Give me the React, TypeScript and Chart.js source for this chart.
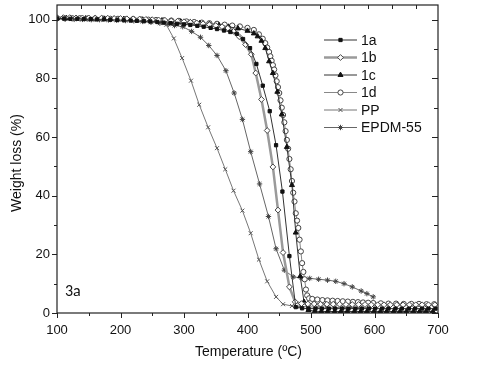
import { useEffect, useRef } from 'react';
import { Chart, registerables } from 'chart.js';
import { drawPoint } from 'chart.js/helpers';

Chart.register(...registerables);

// ---------- data ----------
const t1a = [100,111,121,132,142,153,163,174,184,195,205,216,226,237,247,258,268,279,289,300,310,321,331,342,352,363,373,383,393,404,414,424,435,445,455,466,476,486,496,507,517,528,538,549,559,570,580,591,601,612,622,633,643,654,664,675,685,696];
const w1a = [100.4,100.4,100.3,100.3,100.2,100.2,100.1,100.1,100,99.9,99.8,99.7,99.6,99.5,99.4,99.2,99,98.8,98.6,98.4,98.2,97.9,97.6,97.2,96.8,96.3,95.8,95.2,93.4,90.3,84.9,77.5,68.8,57.2,41.4,19.4,2,1.6,1.5,1.5,1.5,1.5,1.5,1.5,1.5,1.5,1.5,1.5,1.5,1.5,1.5,1.5,1.5,1.5,1.5,1.5,1.5,1.5];

const t1b = [100,110,120,130,140,150,160,170,180,190,200,210,220,230,240,250,260,270,280,290,300,310,320,330,340,350,360,369,378,387,397,406,413,422,431,440,448,456,466,475,485,495,505,515,525,535,545,555,565,575,585,595,605,615,625,635,645,655,665,675,685,695];
const w1b = [100.7,100.7,100.7,100.6,100.6,100.6,100.5,100.5,100.5,100.4,100.4,100.3,100.3,100.2,100.1,100,99.9,99.8,99.6,99.5,99.3,99.1,98.9,98.6,98.3,98,97.6,97.1,96,94.2,91.5,88.2,81.8,72.8,62.2,49.8,35.1,20.6,8.9,3.8,3.2,3.1,3.1,3,3,3,3,2.9,2.9,2.9,2.9,2.8,2.8,2.8,2.8,2.8,2.8,2.8,2.8,2.8,2.8,2.8];

const t1c = [100,115,130,145,160,175,190,205,220,235,250,265,280,295,310,325,340,355,370,385,400,410,416,422,428,434,440,447,454,462,470,476,483,489,496,506,516,526,537,547,557,568,578,588,599,609,619,630,640,650,661,671,681,692];
const w1c = [100.5,100.5,100.5,100.4,100.4,100.3,100.3,100.2,100.1,100,99.9,99.7,99.5,99.3,99.1,98.8,98.5,98.1,97.6,97,96.2,95.3,94.3,92.8,90.3,85.8,81.8,75.4,67.7,56.6,43.6,27.4,12.5,3.8,1,0.6,0.5,0.5,0.5,0.5,0.5,0.5,0.5,0.5,0.5,0.5,0.5,0.5,0.5,0.5,0.5,0.5,0.5,0.5];

const t1d = [100,112,124,136,148,160,172,184,196,208,220,232,244,256,268,280,292,304,316,328,340,352,364,376,388,400,410,418,424,428,431,434,436,438,440,442,444,446,448,450,452,454,456,458,460,462,464,466,468,470,472,474,476,478,480,482,484,486,488,490,492,494,497,502,510,518,526,534,542,550,558,566,574,582,590,598,610,622,634,646,658,670,682,694];
const w1d = [100.5,100.5,100.5,100.5,100.4,100.4,100.4,100.3,100.3,100.2,100.2,100.1,100,99.9,99.8,99.7,99.6,99.4,99.2,99,98.8,98.6,98.3,98,97.7,97.2,96.5,95,93.5,92,90.5,89,87.5,86,84.5,83,81,79,77,75,72.5,70,67.5,65,62,59,56,52.5,49,45,41,38,34,31.5,29,25,21,17,14,11.5,8,6,5,4.8,4.6,4.4,4.3,4.2,4.1,4,3.9,3.8,3.7,3.6,3.5,3.4,3.3,3.2,3.2,3.1,3.1,3.1,3,3];

const tPP = [100,113,127,140,154,167,181,194,208,221,235,248,262,272,284,297,311,324,338,352,365,378,392,405,418,431,445,456,470,483,497,510,524,537,551,564,578,591];
const wPP = [100.3,100.3,100.2,100.2,100.1,100.1,100,100,99.9,99.8,99.6,99.3,98.9,98.3,93.6,86.9,79.2,71,63.3,56.2,49,41.7,34.9,27.2,18.2,10.8,5.5,3,2.4,2.2,2.1,2,2,1.9,1.9,1.8,1.8,1.8];

const tEP = [100,113,127,140,154,167,181,194,208,221,235,248,262,275,285,298,312,326,339,352,366,379,392,405,419,433,445,458,472,485,498,512,526,539,552,565,579,588,598];
const wEP = [100.2,100.2,100.1,100.1,100,100,99.9,99.8,99.7,99.6,99.4,99.1,98.8,98.4,98,97.6,96,94,91.2,87.8,82.6,75,66,55,44,32.9,21.9,14.6,12.3,12,11.8,11.5,11.2,10.8,10,8.9,7.5,6.6,5.5];

const xTickValues = [100, 200, 300, 400, 500, 600, 700];
const yTickValues = [0, 20, 40, 60, 80, 100];
const xTitle = 'Temperature (ºC)';
const yTitle = 'Weight loss (%)';
const panelLabel = '3a';

const FONT = "'Liberation Sans', Arial, sans-serif";

const pts = (t: number[], w: number[]) => t.map((x, i) => ({ x, y: w[i] }));

const axesPlugin = {
  id: 'axesDeco',
  afterDatasetsDraw(chart: any) {
    const { ctx, chartArea: ca, scales } = chart;
    const xs = scales.x;
    const ys = scales.y;
    ctx.save();
    ctx.strokeStyle = '#222';
    ctx.lineWidth = 1.2;
    ctx.strokeRect(ca.left, ca.top, ca.right - ca.left, ca.bottom - ca.top);
    ctx.lineWidth = 1;
    ctx.beginPath();
    for (let v = 100; v <= 700; v += 50) {
      const px = Math.round(xs.getPixelForValue(v)) + 0.5;
      const len = v % 100 === 0 ? 5 : 3;
      ctx.moveTo(px, ca.bottom);
      ctx.lineTo(px, ca.bottom + len);
    }
    for (let v = 0; v <= 100; v += 10) {
      const py = Math.round(ys.getPixelForValue(v)) + 0.5;
      const len = v % 20 === 0 ? 5 : 3;
      ctx.moveTo(ca.left, py);
      ctx.lineTo(ca.left - len, py);
      ctx.moveTo(ca.right, py);
      ctx.lineTo(ca.right - len - 1, py);
    }
    for (let v = 100 + 37.7; v < 700; v += 37.7) {
      const px = Math.round(xs.getPixelForValue(v)) + 0.5;
      ctx.moveTo(px, ca.top);
      ctx.lineTo(px, ca.top + 4);
    }
    ctx.stroke();

    ctx.fillStyle = '#111';
    ctx.font = `14px ${FONT}`;
    ctx.textAlign = 'center';
    ctx.textBaseline = 'middle';
    ctx.fillText(xTitle, (ca.left + ca.right) / 2 + 1, 352);
    ctx.save();
    ctx.translate(17, 163);
    ctx.rotate(-Math.PI / 2);
    ctx.fillText(yTitle, 0, 0);
    ctx.restore();
    ctx.font = `16px 'Carlito', ${FONT}`;
    ctx.textAlign = 'left';
    ctx.fillText(panelLabel, ca.left + 8, ys.getPixelForValue(7));

    const lx0 = 324, lx1 = 357, ly0 = 40, dy = 17.5;
    chart.data.datasets.forEach((ds: any, i: number) => {
      const y = ly0 + i * dy;
      ctx.strokeStyle = ds.borderColor;
      ctx.lineWidth = ds.borderWidth;
      ctx.beginPath();
      ctx.moveTo(lx0, y);
      ctx.lineTo(lx1, y);
      ctx.stroke();
      ctx.fillStyle = ds.pointBackgroundColor;
      ctx.strokeStyle = ds.pointBorderColor;
      ctx.lineWidth = ds.pointBorderWidth;
      drawPoint(ctx, { pointStyle: ds.pointStyle, rotation: 0, radius: ds.pointRadius, borderWidth: ds.pointBorderWidth }, (lx0 + lx1) / 2, y);
      ctx.fillStyle = '#111';
      ctx.font = `14px ${FONT}`;
      ctx.textAlign = 'left';
      ctx.textBaseline = 'middle';
      ctx.fillText(ds.label, 361, y + 1);
    });
    ctx.restore();
  },
};

function App() {
  const ref = useRef<HTMLCanvasElement | null>(null);
  useEffect(() => {
    if (!ref.current) return;
    const mk = (label: string, t: number[], w: number[], o: any) => ({
      label,
      data: pts(t, w),
      borderWidth: 1,
      pointBorderWidth: 1,
      pointRadius: 2.5,
      ...o,
    });
    const chart = new Chart(ref.current, {
      type: 'line',
      data: {
        datasets: [
          mk('1a', t1a, w1a, { borderColor: '#333', pointStyle: 'rect', pointBackgroundColor: '#111', pointBorderColor: '#111', pointRadius: 2.3 }),
          mk('1b', t1b, w1b, { borderColor: '#9a9a9a', borderWidth: 2.5, pointStyle: 'rectRot', pointBackgroundColor: '#fff', pointBorderColor: '#444', pointRadius: 2.9 }),
          mk('1c', t1c, w1c, { borderColor: '#333', pointStyle: 'triangle', pointBackgroundColor: '#111', pointBorderColor: '#111', pointRadius: 2.9 }),
          mk('1d', t1d, w1d, { borderColor: '#888', pointStyle: 'circle', pointBackgroundColor: '#fff', pointBorderColor: '#444', pointRadius: 2.6 }),
          mk('PP', tPP, wPP, { borderColor: '#777', pointStyle: 'crossRot', pointBackgroundColor: '#555', pointBorderColor: '#555', pointRadius: 2.8 }),
          mk('EPDM-55', tEP, wEP, { borderColor: '#666', pointStyle: 'star', pointBackgroundColor: '#444', pointBorderColor: '#444', pointRadius: 2.7 }),
        ],
      },
      options: {
        animation: false,
        responsive: false,
        devicePixelRatio: 1,
        layout: { padding: { left: 0, right: 39, top: 3, bottom: 0 } },
        plugins: { legend: { display: false }, tooltip: { enabled: false } },
        elements: { line: { tension: 0 } },
        scales: {
          x: {
            type: 'linear',
            min: 100,
            max: 700,
            afterFit: (s: any) => { s.height = 53; s.paddingLeft = 0; s.paddingRight = 0; },
            afterBuildTicks: (s: any) => { s.ticks = xTickValues.map((v) => ({ value: v })); },
            grid: { display: false, drawTicks: false },
            border: { display: false },
            ticks: { padding: 10, color: '#111', font: { family: FONT, size: 13 }, maxRotation: 0 },
          },
          y: {
            type: 'linear',
            min: 0,
            max: 105,
            afterFit: (s: any) => { s.width = 57; s.paddingTop = 0; s.paddingBottom = 0; },
            afterBuildTicks: (s: any) => { s.ticks = yTickValues.map((v) => ({ value: v })); },
            grid: { display: false, drawTicks: false },
            border: { display: false },
            ticks: { padding: 7, color: '#111', font: { family: FONT, size: 13 } },
          },
        },
      },
      plugins: [axesPlugin],
    });
    return () => chart.destroy();
  }, []);
  return (
    <div style={{ position: 'absolute', left: 0, top: 0, width: 477, height: 366, background: '#fff' }}>
      <canvas ref={ref} width={477} height={366} style={{ width: 477, height: 366 }} />
    </div>
  );
}

export default App;
